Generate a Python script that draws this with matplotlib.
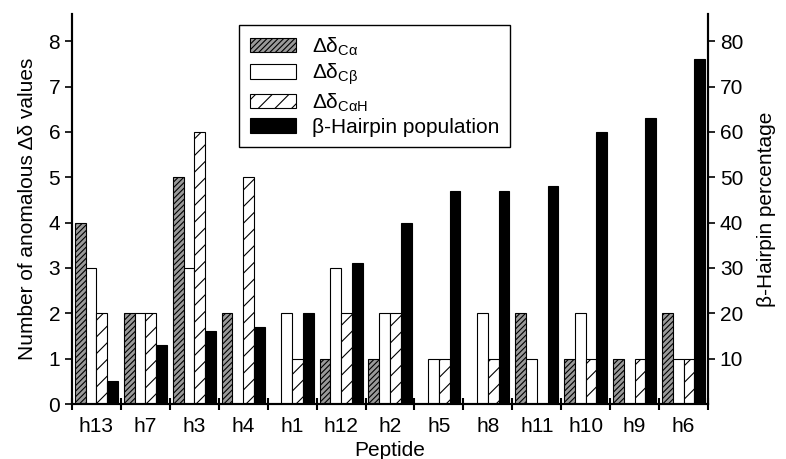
import matplotlib
matplotlib.use("Agg")
import matplotlib.pyplot as plt
import numpy as np

plt.rcParams['font.family'] = ['Liberation Sans', 'DejaVu Sans']
plt.rcParams['mathtext.fontset'] = 'custom'
plt.rcParams['mathtext.rm'] = 'Liberation Sans'
plt.rcParams['mathtext.it'] = 'Liberation Sans'
plt.rcParams['hatch.linewidth'] = 0.8

peptides = ['h13', 'h7', 'h3', 'h4', 'h1', 'h12', 'h2', 'h5', 'h8', 'h11', 'h10', 'h9', 'h6']
d_ca = [4, 2, 5, 2, 0, 1, 1, 0, 0, 2, 1, 1, 2]
d_cb = [3, 2, 3, 0, 2, 3, 2, 1, 2, 1, 2, 0, 1]
d_cah = [2, 2, 6, 5, 1, 2, 2, 1, 1, 0, 1, 1, 1]
hairpin = [5, 13, 16, 17, 20, 31, 40, 47, 47, 48, 60, 63, 76]

x = np.arange(len(peptides))
w = 0.22

fig = plt.figure(figsize=(7.86, 4.59), dpi=100)
ax = fig.add_axes([0.0916, 0.1198, 0.8092, 0.8497])
ax2 = ax.twinx()

b1 = ax.bar(x - 0.33, d_ca, w, facecolor='#9a9a9a', edgecolor='black', hatch='//////', linewidth=0.8)
b2 = ax.bar(x - 0.11, d_cb, w, facecolor='white', edgecolor='black', linewidth=0.8)
b3 = ax.bar(x + 0.11, d_cah, w, facecolor='white', edgecolor='black', hatch='//', linewidth=0.8)
b4 = ax2.bar(x + 0.33, hairpin, w, facecolor='black', edgecolor='black', linewidth=0.8)

ax.set_xlim(-0.5, len(peptides) - 0.5)
ax.set_ylim(0, 8.6)
ax2.set_ylim(0, 86)

ax.set_yticks(range(0, 9))
ax2.set_yticks(range(10, 90, 10))
ax.set_xticks(x)
ax.set_xticklabels(peptides)
ax.set_xticks(np.arange(-0.5, len(peptides), 1.0), minor=True)
ax.tick_params(axis='x', which='major', length=0, labelsize=15, pad=9)
ax.tick_params(axis='x', which='minor', direction='inout', length=8, width=1.5)
ax.tick_params(axis='y', labelsize=15, length=5, width=1.2)
ax2.tick_params(axis='y', labelsize=15, length=5, width=1.2)

for a in (ax, ax2):
    a.spines['top'].set_visible(False)
    for s in ('left', 'right', 'bottom'):
        a.spines[s].set_linewidth(1.5)

ax.set_ylabel('Number of anomalous Δδ values', fontsize=15, labelpad=8)
ax2.set_ylabel('β-Hairpin percentage', fontsize=15, labelpad=10)
ax.set_xlabel('Peptide', fontsize=15, labelpad=4)

leg = ax.legend([b1, b2, b3, b4],
                ['Δδ$_{\\mathrm{Cα}}$', 'Δδ$_{\\mathrm{Cβ}}$',
                 'Δδ$_{\\mathrm{CαH}}$', 'β-Hairpin population'],
                loc='upper center', bbox_to_anchor=(0.476, 0.972), fontsize=15,
                handlelength=2.2, handleheight=0.7, labelspacing=0.2,
                fancybox=False, edgecolor='black', framealpha=1, borderpad=0.5,
                borderaxespad=0)
leg.get_frame().set_linewidth(1.0)

fig.savefig('out.png', dpi=100)
